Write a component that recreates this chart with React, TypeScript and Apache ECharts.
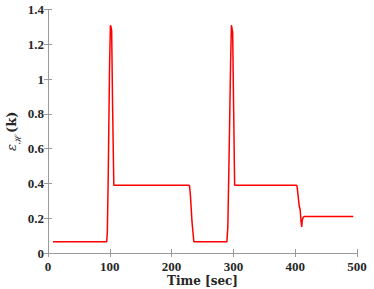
import React, { useEffect, useRef } from "react";
import * as echarts from "echarts";

const timeSec = [8, 95, 96, 97.5, 99.5, 101, 102, 103, 104.5, 106.5, 228, 229, 230.5, 233, 236, 289.5, 291, 293, 295.5, 296.8, 297.8, 298.8, 300.5, 302, 401.5, 403, 405, 406.5, 408, 409.5, 410.5, 411.5, 413, 415, 494];
const errValue = [0.065, 0.065, 0.12, 0.45, 1.05, 1.31, 1.30, 1.28, 0.85, 0.39, 0.39, 0.385, 0.33, 0.18, 0.065, 0.065, 0.15, 0.55, 1.1, 1.31, 1.29, 1.27, 0.8, 0.39, 0.39, 0.385, 0.32, 0.27, 0.25, 0.18, 0.15, 0.19, 0.205, 0.21, 0.21];
const xTicks = [0, 100, 200, 300, 400, 500];
const yTicks = [0, 0.2, 0.4, 0.6, 0.8, 1, 1.2, 1.4];

export default function App() {
  const ref = useRef<HTMLDivElement>(null);
  useEffect(() => {
    const chart = echarts.init(ref.current!, null, { renderer: "svg" });
    const axisColor = "#9a9a9a";
    const labelFont = { fontFamily: "Liberation Serif", fontWeight: "bold" as const, fontSize: 13, color: "#262626" };
    chart.setOption({
      animation: false,
      grid: { left: 48, right: 17, top: 9.5, bottom: 36, containLabel: false, outerBoundsMode: "none" },
      xAxis: [
        {
          type: "value", min: xTicks[0], max: xTicks[xTicks.length - 1], interval: 100,
          axisLine: { show: true, lineStyle: { color: axisColor, width: 1 } },
          axisTick: { show: true, inside: true, length: 4, lineStyle: { color: axisColor } },
          splitLine: { show: false },
          axisLabel: { ...labelFont, margin: 7 },
          name: "Time [sec]", nameLocation: "middle", nameGap: 21, nameMoveOverlap: false,
          nameTextStyle: { fontFamily: "DejaVu Serif", fontWeight: "bold", fontSize: 12, lineHeight: 13, color: "#262626" },
        },
        {
          type: "value", position: "top", min: 0, max: 500, interval: 100,
          axisLine: { show: true, lineStyle: { color: axisColor, width: 1 } },
          axisTick: { show: true, inside: true, length: 4, lineStyle: { color: axisColor } },
          axisLabel: { show: false }, splitLine: { show: false },
        },
      ],
      yAxis: [
        {
          type: "value", min: yTicks[0], max: yTicks[yTicks.length - 1], interval: 0.2,
          axisLine: { show: true, lineStyle: { color: axisColor, width: 1 } },
          axisTick: { show: true, inside: true, length: 4, lineStyle: { color: axisColor } },
          splitLine: { show: false },
          axisLabel: { ...labelFont, margin: 4, formatter: (v: number) => String(Math.round(v * 10) / 10) },
          name: "{e|ε}{h|ℋ}{k|(k)}", nameLocation: "middle", nameGap: 30, nameRotate: 90, nameMoveOverlap: false,
          nameTextStyle: {
            rich: {
              e: { fontFamily: "DejaVu Serif", fontStyle: "italic", fontSize: 13, color: "#262626", verticalAlign: "bottom" },
              h: { fontFamily: "DejaVu Serif", fontSize: 9, color: "#262626", verticalAlign: "bottom", padding: [0, 1, -4, 0] },
              k: { fontFamily: "DejaVu Serif", fontWeight: "bold", fontSize: 13, color: "#262626", verticalAlign: "bottom" },
            },
          },
        },
        {
          type: "value", position: "right", min: 0, max: 1.4, interval: 0.2,
          axisLine: { show: true, lineStyle: { color: axisColor, width: 1 } },
          axisTick: { show: true, inside: true, length: 4, lineStyle: { color: axisColor } },
          axisLabel: { show: false }, splitLine: { show: false },
        },
      ],
      series: [
        {
          type: "line", xAxisIndex: 0, yAxisIndex: 0, showSymbol: false,
          data: timeSec.map((t, i) => [t, errValue[i]]),
          lineStyle: { color: "#ff0000", width: 1.5 },
        },
      ],
    });
    return () => chart.dispose();
  }, []);
  return <div ref={ref} style={{ width: 374, height: 289, position: "absolute", left: 0, top: 0, background: "#fff" }} />;
}
